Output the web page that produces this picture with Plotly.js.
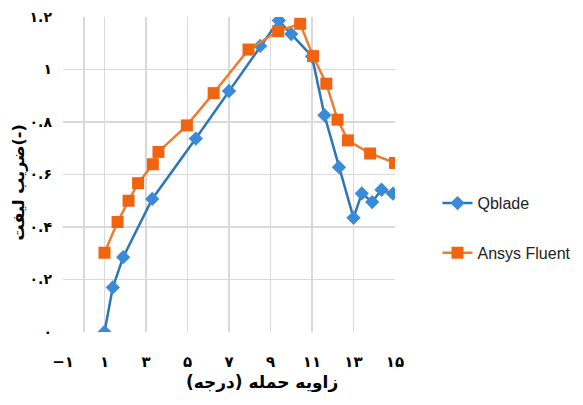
<!DOCTYPE html>
<html>
<head>
<meta charset="utf-8">
<script src="https://cdn.plot.ly/plotly-3.0.1.min.js"></script>
<style>html,body{margin:0;padding:0;background:#fff;}#chart{width:583px;height:405px;}</style>
</head>
<body>
<div id="chart"></div>
<script>
// Qblade series
const qbladeX = [1, 1.4, 1.9, 3.3, 5.4, 7, 8.5, 9.4, 10, 11, 11.6, 12.3, 13, 13.4, 13.9, 14.35, 14.9];
const qbladeY = [0, 0.17, 0.285, 0.507, 0.737, 0.918, 1.09, 1.187, 1.135, 1.05, 0.826, 0.628, 0.435, 0.528, 0.495, 0.542, 0.527];
// Ansys Fluent series
const fluentX = [1, 1.63, 2.16, 2.62, 3.33, 3.6, 4.97, 6.26, 7.94, 9.37, 10.43, 11.05, 11.69, 12.23, 12.73, 13.8, 15];
const fluentY = [0.302, 0.419, 0.5, 0.567, 0.639, 0.686, 0.787, 0.91, 1.076, 1.146, 1.174, 1.051, 0.946, 0.809, 0.73, 0.68, 0.644];
// tick labels
const xTickVals = [-1, 1, 3, 5, 7, 9, 11, 13, 15];
const xTickText = ["\u2212\u06F1", "\u06F1", "\u06F3", "\u06F5", "\u06F7", "\u06F9", "\u06F1\u06F1", "\u06F1\u06F3", "\u06F1\u06F5"];
const yTickVals = [0, 0.2, 0.4, 0.6, 0.8, 1, 1.2];
const yTickText = ["\u06F0", "\u06F0.\u06F2", "\u06F0.\u06F4", "\u06F0.\u06F6", "\u06F0.\u06F8", "\u06F1", "\u06F1.\u06F2"];
const seriesNames = ["Qblade", "Ansys Fluent"];
const xTitle = '\u0632\u0627\u0648\u06CC\u0647 \u062D\u0645\u0644\u0647 (\u062F\u0631\u062C\u0647)\u200F';
const yTitle = '\u0636\u0631\u06CC\u0628 \u0644\u06CC\u0641\u062A(-)';

const traces = [
  {
    x: qbladeX, y: qbladeY, name: seriesNames[0], type: 'scatter', mode: 'lines+markers',
    line: {color: '#2e75b6', width: 2.5},
    marker: {symbol: 'diamond', size: 11, color: '#3b8ad8'},
    legendgroup: 'a'
  },
  {
    x: fluentX, y: fluentY, name: seriesNames[1], type: 'scatter', mode: 'lines+markers',
    line: {color: '#ed7d31', width: 2.5},
    marker: {symbol: 'square', size: 12, color: '#f0640f'},
    legendgroup: 'b'
  }
];

const layout = {
  width: 583, height: 405,
  margin: {l: 63, r: 188, t: 17, b: 73, autoexpand: false},
  paper_bgcolor: '#fff', plot_bgcolor: '#fff',
  font: {family: 'DejaVu Sans, sans-serif', color: '#000'},
  xaxis: {
    range: [-1, 15], tickvals: xTickVals, ticktext: xTickText,
    showgrid: true, gridcolor: '#d9d9d9', gridwidth: 1.5,
    zeroline: true, zerolinecolor: '#d9d9d9', zerolinewidth: 1.5,
    showline: false, ticks: '',
    tickfont: {size: 15, color: '#000', family: 'DejaVu Sans, sans-serif', weight: 'bold'},
    ticklabelstandoff: 19
  },
  yaxis: {
    range: [0, 1.2], tickvals: yTickVals, ticktext: yTickText,
    showgrid: true, gridcolor: '#d9d9d9', gridwidth: 1.5,
    zeroline: false, showline: false, ticks: '',
    tickfont: {size: 14, color: '#000', family: 'DejaVu Sans, sans-serif', weight: 'bold'},
    ticklabelstandoff: 10
  },
  annotations: [
    {text: xTitle, xref: 'paper', yref: 'paper', x: 0.6, y: (331.7 - 382) / 315,
     xanchor: 'center', yanchor: 'middle', showarrow: false,
     font: {size: 17, color: '#000', family: 'DejaVu Sans, sans-serif', weight: 'bold'}},
    {text: yTitle, xref: 'paper', yref: 'paper', x: (18 - 63) / 332, y: 0.475,
     xanchor: 'center', yanchor: 'middle', showarrow: false, textangle: -90,
     font: {size: 16, color: '#000', family: 'DejaVu Sans, sans-serif', weight: 'bold'}}
  ],
  showlegend: true,
  legend: {
    x: 1.128, y: 0.463, xanchor: 'left', yanchor: 'top',
    traceorder: 'grouped', tracegroupgap: 26,
    font: {size: 16, color: '#222', family: 'Liberation Sans, Arial, sans-serif'},
    bgcolor: 'rgba(0,0,0,0)'
  }
};

Plotly.newPlot('chart', traces, layout, {staticPlot: true, displayModeBar: false});
</script>
</body>
</html>
